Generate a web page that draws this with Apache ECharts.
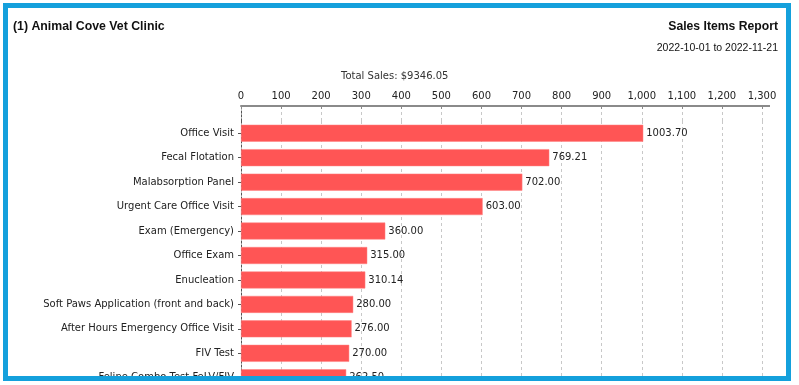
<!DOCTYPE html>
<html>
<head>
<meta charset="utf-8">
<script src="https://cdn.jsdelivr.net/npm/echarts@6/dist/echarts.min.js"></script>
<style>
html,body{margin:0;padding:0;background:#fff;width:799px;height:385px;overflow:hidden;}
#frame{position:absolute;left:3px;top:3px;width:788px;height:378px;border:5px solid #14a0dc;box-sizing:border-box;overflow:hidden;background:#fff;}
#chart{position:absolute;left:-8px;top:-8px;width:799px;height:410px;}
</style>
</head>
<body>
<div id="frame"><div id="chart"></div></div>
<script>
const categories = [
  'Office Visit',
  'Fecal Flotation',
  'Malabsorption Panel',
  'Urgent Care Office Visit',
  'Exam (Emergency)',
  'Office Exam',
  'Enucleation',
  'Soft Paws Application (front and back)',
  'After Hours Emergency Office Visit',
  'FIV Test',
  'Feline Combo Test FeLV/FIV'
];
const salesValues = [1003.70, 769.21, 702.00, 603.00, 360.00, 315.00, 310.14, 280.00, 276.00, 270.00, 262.50];
const clinicTitle = '(1) Animal Cove Vet Clinic';
const reportTitle = 'Sales Items Report';
const dateRange = '2022-10-01 to 2022-11-21';
const totalSalesText = 'Total Sales: $9346.05';
const axisMin = 0, axisMax = 1300, axisStep = 100;

const labelFont = 'DejaVu Sans';
const chart = echarts.init(document.getElementById('chart'));
const splitStyle = {show: true, lineStyle: {color: '#c8c8c8', type: [3, 3], width: 1}};
chart.setOption({
  animation: false,
  title: [
    {text: clinicTitle, left: 13, top: 21, padding: 0, textStyle: {fontFamily: 'Liberation Sans', fontWeight: 'bold', fontSize: 12.3, color: '#111'}},
    {text: reportTitle, right: 21, top: 21, padding: 0, textStyle: {fontFamily: 'Liberation Sans', fontWeight: 'bold', fontSize: 12.2, color: '#111'}},
    {text: dateRange, right: 21, top: 43, padding: 0, textStyle: {fontFamily: 'Liberation Sans', fontWeight: 'normal', fontSize: 10.5, color: '#111'}},
    {text: totalSalesText, left: 341, top: 71, padding: 0, textStyle: {fontFamily: labelFont, fontWeight: 'normal', fontSize: 10, color: '#333'}}
  ],
  grid: [
    {left: 241, right: 37, top: 106, height: 15},
    {left: 241, right: 37, top: 121, height: 269}
  ],
  xAxis: [
    {gridIndex: 0, type: 'value', position: 'top', min: axisMin, max: axisMax, interval: axisStep,
     axisLine: {show: true, lineStyle: {color: '#8a8a8a', width: 2}},
     axisTick: {show: true, inside: true, length: 3, lineStyle: {color: '#8a8a8a'}},
     axisLabel: {fontFamily: labelFont, fontSize: 10, color: '#222', margin: 5},
     splitLine: splitStyle},
    {gridIndex: 1, type: 'value', position: 'top', min: axisMin, max: axisMax, interval: axisStep,
     axisLine: {show: false}, axisTick: {show: false}, axisLabel: {show: false},
     splitLine: splitStyle}
  ],
  yAxis: [
    {gridIndex: 0, type: 'category', data: [],
     axisLine: {show: true, lineStyle: {color: '#555', type: [2, 2]}},
     axisTick: {show: false}, axisLabel: {show: false}},
    {gridIndex: 1, type: 'category', inverse: true, data: categories,
     axisLine: {show: true, lineStyle: {color: '#555', type: [2, 2]}},
     axisTick: {show: true, alignWithLabel: true, length: 3, lineStyle: {color: '#555'}},
     axisLabel: {fontFamily: labelFont, fontSize: 10, color: '#222', margin: 7}}
  ],
  series: [{
    type: 'bar', xAxisIndex: 1, yAxisIndex: 1,
    data: salesValues,
    barWidth: 17,
    itemStyle: {color: '#ff5555', borderColor: '#ff8080', borderWidth: 0.5},
    label: {show: true, position: 'right', distance: 3, fontFamily: labelFont, fontSize: 10, color: '#222',
            formatter: p => p.value.toFixed(2)}
  }],
  graphic: [{
    type: 'line', shape: {x1: 762, y1: 106, x2: 770, y2: 106}, style: {stroke: '#8a8a8a', lineWidth: 2}
  }]
});
</script>
</body>
</html>
